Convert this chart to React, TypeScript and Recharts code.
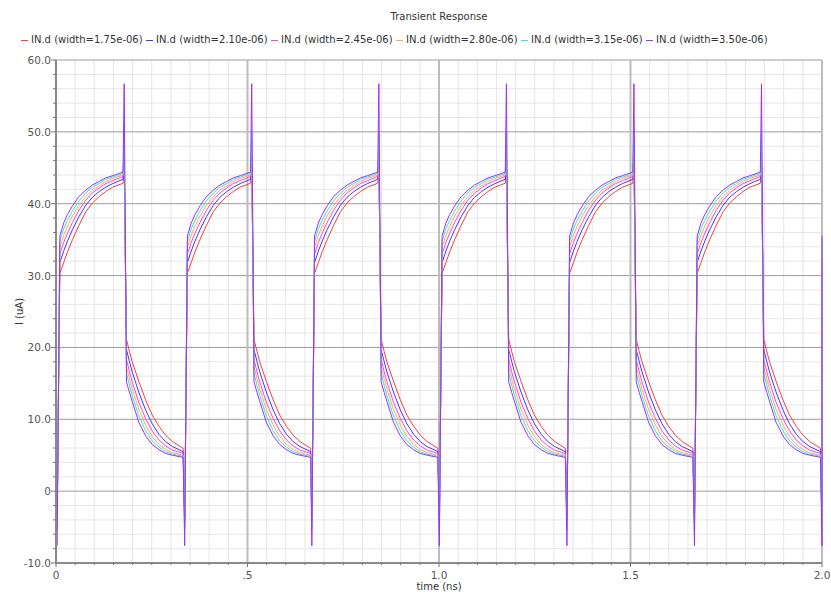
import React from "react";
import { LineChart, Line, XAxis, YAxis, CartesianGrid } from "recharts";

const widthLabels = ["1.75e-06", "2.10e-06", "2.45e-06", "2.80e-06", "3.15e-06", "3.50e-06"];
const seriesKeys = ["w175", "w210", "w245", "w280", "w315", "w350"];
const seriesColors = ["#ff3a3a", "#3a3aff", "#ff3aff", "#ffb030", "#30e0ff", "#a030f0"];

// falling-edge spike times (ns), one per clock cycle
const cycleStarts = [0.003, 0.336, 0.668, 1.001, 1.334, 1.667];
const endTime = 2.0;

// rising segment, time after the falling spike
const riseTau = [0, 0.01, 0.02, 0.033, 0.05, 0.068, 0.085, 0.103, 0.12, 0.138, 0.165];
const rise175 = [30.3, 31.8, 33.3, 35.0, 37.0, 38.9, 40.1, 41.0, 41.7, 42.3, 42.85];
const rise210 = [31.8, 33.4, 34.8, 36.4, 38.2, 39.8, 40.9, 41.7, 42.3, 42.8, 43.4];
const rise245 = [33.0, 34.6, 35.9, 37.4, 39.1, 40.5, 41.5, 42.2, 42.8, 43.2, 43.8];
const rise280 = [34.0, 35.6, 36.9, 38.3, 39.8, 41.0, 41.9, 42.5, 43.1, 43.5, 44.0];
const rise315 = [34.8, 36.5, 37.7, 39.0, 40.4, 41.5, 42.3, 42.8, 43.4, 43.7, 44.2];
const rise350 = [35.5, 37.3, 38.5, 39.7, 41.0, 41.9, 42.6, 43.1, 43.6, 43.9, 44.4];

// falling segment, time after the rising spike
const fallTau = [0, 0.008, 0.015, 0.032, 0.05, 0.067, 0.085, 0.102, 0.12, 0.148];
const fall175 = [21.1, 19.4, 18.0, 15.3, 12.7, 10.6, 9.0, 7.8, 6.9, 5.96];
const fall210 = [19.7, 18.0, 16.6, 13.8, 11.3, 9.4, 7.9, 6.9, 6.2, 5.5];
const fall245 = [18.3, 16.6, 15.2, 12.4, 10.1, 8.4, 7.1, 6.3, 5.7, 5.25];
const fall280 = [17.3, 15.6, 14.2, 11.4, 9.2, 7.6, 6.5, 5.8, 5.35, 5.0];
const fall315 = [16.4, 14.7, 13.3, 10.5, 8.4, 7.0, 6.1, 5.5, 5.15, 4.85];
const fall350 = [15.2, 13.7, 12.5, 9.6, 7.7, 6.5, 5.75, 5.25, 5.0, 4.7];

// spike extremes per series
const spikeHigh = [45.5, 46, 46.5, 47, 50, 56.7];
const spikeLow = [-3.5, -4, -4.5, -5, -5.5, -7.6];

const riseCurves = [rise175, rise210, rise245, rise280, rise315, rise350];
const fallCurves = [fall175, fall210, fall245, fall280, fall315, fall350];

const yMajorTicks = [-10, 0, 10, 20, 30, 40, 50, 60];
const yLabels = ["-10.0", "0", "10.0", "20.0", "30.0", "40.0", "50.0", "60.0"];
const xMajorTicks = [0, 0.5, 1.0, 1.5, 2.0];
const xLabels = ["0", ".5", "1.0", "1.5", "2.0"];

const RISE_START = 0.007;
const HIGH_AT = 0.175;
const FALL_START = 0.181;

const makeRow = (t: number, pick: (i: number) => number) => {
  const r: any = { t };
  seriesKeys.forEach((k, i) => (r[k] = pick(i)));
  return r;
};

const data: any[] = [];
cycleStarts.forEach((s) => {
  data.push(makeRow(s, (i) => spikeLow[i]));
  riseTau.forEach((tau, j) => data.push(makeRow(s + RISE_START + tau, (i) => riseCurves[i][j])));
  data.push(makeRow(s + HIGH_AT, (i) => spikeHigh[i]));
  fallTau.forEach((tau, j) => data.push(makeRow(s + FALL_START + tau, (i) => fallCurves[i][j])));
});
data.push(makeRow(endTime, (i) => spikeLow[i]));
data.push(makeRow(endTime, (i) => riseCurves[i][0]));

const yTicks: number[] = [];
for (let v = -10; v <= 60; v += 2) yTicks.push(v);
const yMinor = yTicks.filter((v) => v % 10 !== 0);
const xTicks: number[] = [];
for (let i = 0; i <= 40; i++) xTicks.push(Number((i * 0.05).toFixed(2)));
const xMinor = xTicks.filter((v) => !xMajorTicks.some((m) => Math.abs(m - v) < 1e-6));

const FONT = "'DejaVu Sans', sans-serif";

const XTick = (props: any) => {
  const { x, y, payload } = props;
  const idx = xMajorTicks.findIndex((m) => Math.abs(m - payload.value) < 1e-6);
  const major = idx >= 0;
  return (
    <g>
      <line x1={x} x2={x} y1={y} y2={y + (major ? 4 : 2)} stroke="#777" />
      {major && (
        <text x={x} y={y + 15.5} textAnchor="middle" fontSize={10.5} fill="#555" fontFamily={FONT}>
          {xLabels[idx]}
        </text>
      )}
    </g>
  );
};

const YTick = (props: any) => {
  const { x, y, payload } = props;
  const idx = yMajorTicks.indexOf(payload.value);
  const major = idx >= 0;
  return (
    <g>
      <line x1={x - (major ? 5 : 3)} x2={x} y1={y} y2={y} stroke="#777" />
      {major && (
        <text x={x - 5} y={y + 4} textAnchor="end" fontSize={10.5} fill="#555" fontFamily={FONT}>
          {yLabels[idx]}
        </text>
      )}
    </g>
  );
};

export default function App() {
  return (
    <div
      style={{
        position: "absolute",
        left: 0,
        top: 0,
        width: 831,
        height: 592,
        background: "#fff",
        fontFamily: FONT,
        overflow: "hidden",
      }}
    >
      <div
        style={{
          position: "absolute",
          left: 56,
          width: 766,
          top: 11,
          lineHeight: "12px",
          fontSize: 10,
          color: "#333",
          textAlign: "center",
        }}
      >
        Transient Response
      </div>
      {widthLabels.map((w, i) => (
        <div
          key={w}
          style={{
            position: "absolute",
            left: 21 + 125 * i,
            top: 34,
            lineHeight: "12px",
            fontSize: 10,
            color: "#333",
            whiteSpace: "nowrap",
          }}
        >
          <span
            style={{
              display: "inline-block",
              width: 7,
              height: 1,
              background: seriesColors[i],
              verticalAlign: "middle",
              marginRight: 3,
            }}
          />
          IN.d (width={w})
        </div>
      ))}
      <LineChart width={831} height={592} data={data} margin={{ top: 60, right: 9, bottom: 0, left: 6 }}>
        <CartesianGrid horizontalValues={yMinor} verticalValues={xMinor} stroke="#e6e6e6" />
        <CartesianGrid horizontalValues={yMajorTicks} vertical={false} stroke="#9c9c9c" />
        <CartesianGrid verticalValues={xMajorTicks} horizontal={false} stroke="#bcbcbc" strokeWidth={2} />
        <XAxis
          dataKey="t"
          type="number"
          domain={[0, 2]}
          ticks={xTicks}
          interval={0}
          height={29}
          tickSize={0}
          tickMargin={0}
          tickLine={false}
          tick={XTick}
          axisLine={{ stroke: "#8a8a8a", strokeWidth: 2 }}
          label={{ value: "time (ns)", position: "insideBottom", offset: 2, fontSize: 10, fill: "#333" }}
        />
        <YAxis
          type="number"
          domain={[-10, 60]}
          ticks={yTicks}
          interval={0}
          width={50}
          tickSize={0}
          tickMargin={0}
          tickLine={false}
          tick={YTick}
          axisLine={{ stroke: "#8a8a8a", strokeWidth: 2 }}
          label={{
            value: "I (uA)",
            angle: -90,
            position: "insideLeft",
            offset: 13,
            fontSize: 10,
            fill: "#333",
            style: { textAnchor: "middle" },
          }}
        />
        {seriesKeys.map((k, i) => (
          <Line
            key={k}
            dataKey={k}
            type="linear"
            stroke={seriesColors[i]}
            strokeWidth={1}
            dot={false}
            activeDot={false}
            isAnimationActive={false}
          />
        ))}
      </LineChart>
    </div>
  );
}
